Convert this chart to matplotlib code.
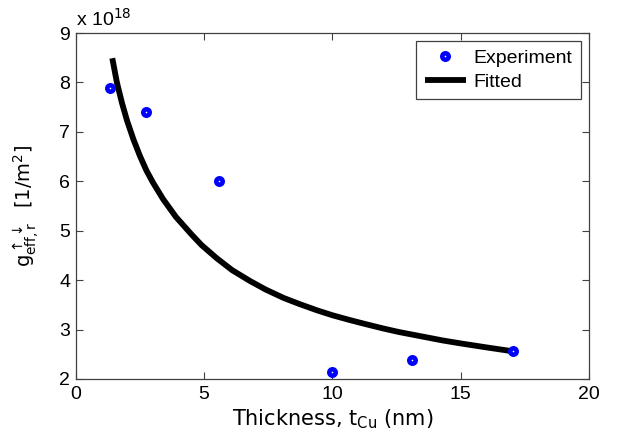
import numpy as np
import matplotlib
matplotlib.use("Agg")
import matplotlib.pyplot as plt

plt.rcParams['font.family'] = ['Liberation Sans', 'DejaVu Sans']
plt.rcParams['mathtext.fontset'] = 'dejavusans'

# measured points (y in units of 1e18 1/m^2)
exp_t = [1.33, 2.73, 5.58, 9.98, 13.1, 17.04]
exp_g = [7.89, 7.41, 6.01, 2.14, 2.38, 2.57]

# fitted curve
fit_t = [1.42, 1.6, 1.8, 2.0, 2.25, 2.5, 2.75, 3.0, 3.4, 3.9, 4.5, 4.9, 5.5, 6.1, 6.8,
         7.4, 8.1, 8.7, 9.4, 10.0, 10.7, 11.3, 12.0, 12.6, 13.5, 14.3, 15.0, 16.0, 17.04]
fit_g = [8.49, 8.0, 7.58, 7.22, 6.84, 6.51, 6.22, 5.98, 5.64, 5.28, 4.93, 4.71, 4.44, 4.20, 3.98,
         3.81, 3.64, 3.52, 3.39, 3.29, 3.19, 3.11, 3.02, 2.95, 2.86, 2.78, 2.72, 2.64, 2.56]

fig = plt.figure(figsize=(6.27, 4.43), dpi=100)
ax = fig.add_axes([0.121, 0.1445, 0.818, 0.781])

ax.plot(exp_t, exp_g, 'o', color='blue', markersize=4.6, markerfacecolor='white',
        markeredgecolor='blue', markeredgewidth=3.3, label='Experiment', zorder=3)
ax.plot(fit_t, fit_g, '-', color='black', linewidth=4.2, label='Fitted', zorder=2,
        solid_joinstyle='round', solid_capstyle='butt')

ax.set_xlim(0, 20)
ax.set_ylim(2, 9)
ax.set_xticks([0, 5, 10, 15, 20])
ax.set_yticks([2, 3, 4, 5, 6, 7, 8, 9])
ax.tick_params(direction='in', top=True, right=True, labelsize=14, length=5,
               width=0.8, color='#404040')
ax.tick_params(axis='x', pad=5)
ax.tick_params(axis='y', pad=4)
for s in ax.spines.values():
    s.set_color('#404040')
    s.set_linewidth(0.9)

ax.set_xlabel(r'Thickness, t$_{\rm Cu}$ (nm)', fontsize=15, family='DejaVu Sans', labelpad=3)
ax.set_ylabel(r'$\rm g^{\uparrow\downarrow}_{eff,r}$  [1/m$^2$]', fontsize=14,
              family='DejaVu Sans')
ax.yaxis.set_label_coords(-0.066, 0.5)
ax.text(0.0, 1.01, r'x 10$^{18}$', transform=ax.transAxes, fontsize=14, va='bottom')

leg = ax.legend(loc='upper right', fontsize=14, fancybox=False, framealpha=1,
                edgecolor='#404040', borderpad=0.45, handlelength=2.1, labelspacing=0.3,
                handletextpad=0.4, borderaxespad=0.4)
leg.get_frame().set_linewidth(0.9)

fig.savefig('out.png', dpi=100)
